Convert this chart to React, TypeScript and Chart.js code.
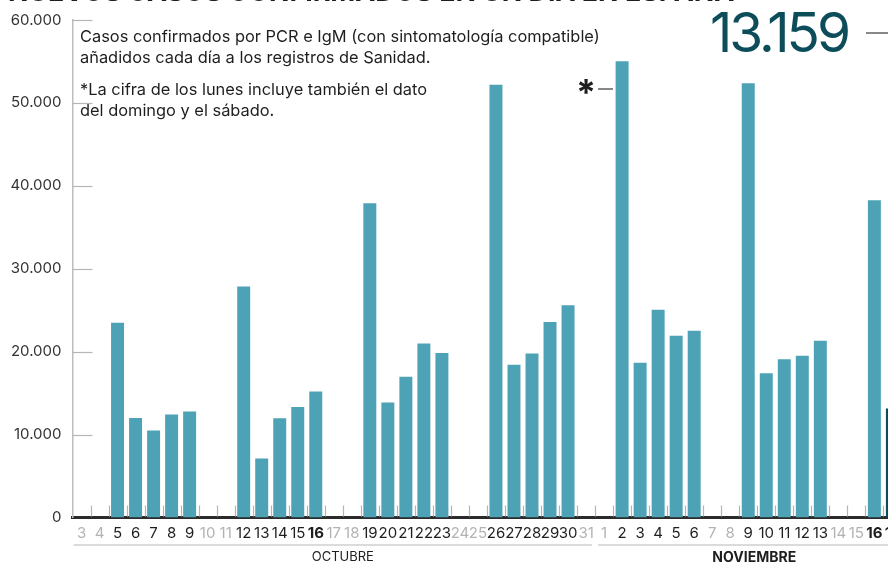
import React, { useEffect, useRef } from "react";
import { Chart, registerables } from "chart.js";

Chart.register(...registerables);

// ---- data ----
const octDays: number[] = [3,4,5,6,7,8,9,10,11,12,13,14,15,16,17,18,19,20,21,22,23,24,25,26,27,28,29,30,31];
const novDays: number[] = [1,2,3,4,5,6,7,8,9,10,11,12,13,14,15,16,17];

const octCases: (number | null)[] = [
  null, null, 23480, 11998, 10491, 12423, 12788, null, null,
  27856, 7118, 11970, 13318, 15186, null, null,
  37889, 13873, 16973, 20986, 19851, null, null,
  52188, 18418, 19765, 23580, 25595, null,
];
const novCases: (number | null)[] = [
  null, 55019, 18669, 25042, 21908, 22516, null, null,
  52386, 17395, 19096, 19511, 21310, null, null,
  38273, 13159,
];

const octWeekend: number[] = [3,4,10,11,17,18,24,25,31];
const novWeekend: number[] = [1,7,8,14,15];
const octBold: number[] = [16];
const novBold: number[] = [16,17];

const yTicks: number[] = [0,10000,20000,30000,40000,50000,60000];
const monthNames: string[] = ["OCTUBRE", "NOVIEMBRE"];

const categories: string[] = [...octDays.map(String), ...novDays.map(String)];
const values: (number | null)[] = [...octCases, ...novCases];
const weekendFlags: boolean[] = [
  ...octDays.map((d) => octWeekend.includes(d)),
  ...novDays.map((d) => novWeekend.includes(d)),
];
const boldFlags: boolean[] = [
  ...octDays.map((d) => octBold.includes(d)),
  ...novDays.map((d) => novBold.includes(d)),
];

const BAR = "#4ea2b6";
const DARK = "#0d4d5a";
const FONT = "Inter, 'Noto Sans', sans-serif";

const fmt = (v: number) =>
  v === 0 ? "0" : String(v).replace(/\B(?=(\d{3})+(?!\d))/g, ".");

const decorPlugin = {
  id: "decor",
  afterDraw(chart: any) {
    const ctx = chart.ctx;
    const x = chart.scales.x;
    const y = chart.scales.y;
    const area = chart.chartArea;
    const n = categories.length;
    const step = (area.right - area.left) / n;
    ctx.save();
    // y ticks pointing right
    ctx.strokeStyle = "#b5b5b5";
    ctx.lineWidth = 1.2;
    yTicks.forEach((v) => {
      if (v === 0) return;
      const py = Math.round(y.getPixelForValue(v)) + 0.5;
      ctx.beginPath();
      ctx.moveTo(area.left, py);
      ctx.lineTo(area.left + 20, py);
      ctx.stroke();
    });
    // small x ticks between categories
    for (let i = 1; i <= n; i++) {
      const px = Math.round(x.getPixelForValue(i - 1) + step / 2) + 0.5;
      ctx.beginPath();
      ctx.moveTo(px, area.bottom - 12);
      ctx.lineTo(px, area.bottom - 1);
      ctx.stroke();
    }
    // month separator lines
    const boundary = x.getPixelForValue(octDays.length - 1) + step / 2;
    const sepY = area.bottom + 27.5;
    ctx.strokeStyle = "#cfcfcf";
    ctx.lineWidth = 1.5;
    ctx.beginPath();
    ctx.moveTo(area.left + 1, sepY);
    ctx.lineTo(boundary - 3, sepY);
    ctx.moveTo(boundary + 3, sepY);
    ctx.lineTo(chart.width, sepY);
    ctx.stroke();
    // month names
    ctx.fillStyle = "#1e1e1e";
    ctx.textAlign = "center";
    ctx.textBaseline = "middle";
    ctx.font = "13px " + FONT;
    const octMid = (x.getPixelForValue(0) + x.getPixelForValue(octDays.length - 1)) / 2 + 9;
    ctx.fillText(monthNames[0], octMid, area.bottom + 40);
    ctx.font = "bold 14px " + FONT;
    const novMid = x.getPixelForValue(octDays.length + 8) + 6;
    ctx.fillText(monthNames[1], novMid, area.bottom + 40);
    ctx.restore();
  },
};

export default function App() {
  const ref = useRef<HTMLCanvasElement | null>(null);
  useEffect(() => {
    if (!ref.current) return;
    const chart = new Chart(ref.current, {
      type: "bar",
      data: {
        labels: categories,
        datasets: [
          {
            data: values as any,
            backgroundColor: values.map((_, i) => (i === values.length - 1 ? DARK : BAR)),
            barPercentage: 0.72,
            categoryPercentage: 1,
          },
        ],
      },
      options: {
        responsive: false,
        animation: false,
        layout: { padding: { top: 19, right: 0, bottom: 0, left: 0 } },
        plugins: { legend: { display: false }, tooltip: { enabled: false } },
        scales: {
          x: {
            offset: true,
            grid: { display: false, drawTicks: false },
            border: { display: true, color: "#2b2b2b", width: 3 },
            ticks: {
              autoSkip: false,
              maxRotation: 0,
              padding: 7,
              color: (c: any) => (weekendFlags[c.index] ? "#b3b3b3" : "#1e1e1e"),
              font: (c: any) => ({
                family: FONT,
                size: 15,
                weight: boldFlags[c.index] ? "bold" : "normal",
              }),
            },
            afterFit: (s: any) => {
              s.height = 46.5;
            },
          },
          y: {
            min: 0,
            max: 60000,
            grid: { display: false, drawTicks: false },
            border: { display: true, color: "#bdbdbd", width: 1.5 },
            ticks: {
              stepSize: 10000,
              padding: 11,
              color: "#333",
              font: { family: FONT, size: 15 },
              callback: (v: any) => fmt(Number(v)),
            },
            afterFit: (s: any) => {
              s.width = 72.5;
            },
          },
        },
      },
      plugins: [decorPlugin],
    });
    return () => chart.destroy();
  }, []);

  const text: React.CSSProperties = {
    position: "absolute",
    fontFamily: FONT,
    fontSize: 16.4,
    color: "#1e1e1e",
    lineHeight: "21px",
    whiteSpace: "nowrap",
  };

  return (
    <div
      style={{
        position: "fixed",
        left: 0,
        top: 0,
        width: 888,
        height: 564,
        overflow: "hidden",
        background: "#fff",
      }}
    >
      <canvas ref={ref} width={907} height={564} style={{ position: "absolute", left: 0, top: 0 }} />
      <div
        style={{
          position: "absolute",
          left: 8,
          top: -23,
          fontFamily: FONT,
          fontWeight: 700,
          fontSize: 26.8,
          lineHeight: "28px",
          color: "#1e1e1e",
          whiteSpace: "nowrap",
        }}
      >
        NUEVOS CASOS CONFIRMADOS EN UN DÍA EN ESPAÑA
      </div>
      <div style={{ ...text, left: 80, top: 26 }}>
        Casos confirmados por PCR e IgM (con sintomatología compatible)
        <br />
        añadidos cada día a los registros de Sanidad.
      </div>
      <div style={{ ...text, left: 80, top: 79 }}>
        *La cifra de los lunes incluye también el dato
        <br />
        del domingo y el sábado.
      </div>
      <div
        style={{
          position: "absolute",
          left: 710,
          top: 2,
          fontFamily: FONT,
          fontSize: 55,
          lineHeight: "60px",
          letterSpacing: -3,
          color: DARK,
          whiteSpace: "nowrap",
        }}
      >
        13.159
      </div>
      <div style={{ position: "absolute", left: 866, top: 32, width: 22, height: 1.5, background: "#888" }} />
      <div
        style={{
          position: "absolute",
          left: 576,
          top: 72,
          fontFamily: FONT,
          fontWeight: 700,
          fontSize: 36,
          lineHeight: "40px",
          color: "#1e1e1e",
        }}
      >
        *
      </div>
      <div style={{ position: "absolute", left: 598, top: 88, width: 15, height: 1.5, background: "#888" }} />
    </div>
  );
}
